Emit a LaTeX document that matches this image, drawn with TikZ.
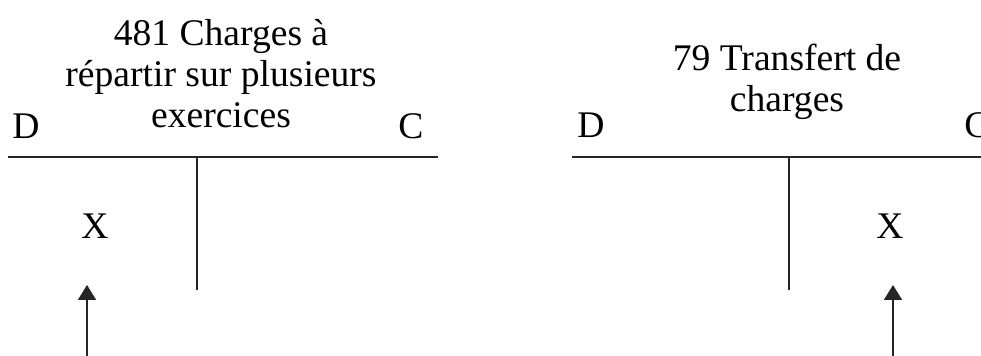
\documentclass[tikz,border=0pt]{standalone}
\usepackage{fontspec}
\setmainfont{Liberation Serif}
\usetikzlibrary{arrows.meta, positioning}
\tikzset{
	titlenode/.style={
			align=center,
			inner sep=0pt,
			anchor=base,
			font=\fontsize{18.8}{20.5}\selectfont
		},
	sidenode/.style={
			inner sep=0pt,
			anchor=base west,
			font=\fontsize{18.8}{20.5}\selectfont
		},
	entrynode/.style={
			inner sep=0pt,
			anchor=base,
			font=\fontsize{18.8}{20.5}\selectfont
		},
	accline/.style={
			draw=black!85,
			line width=0.9pt
		},
	arrline/.style={
			accline,
			-{Triangle[length=7.5pt, width=9pt]}
		}
}

\begin{document}
\begin{tikzpicture}[x=0.5pt, y=-0.5pt]
\clip (0,0) rectangle (981,356);
\fill[white] (0,0) rectangle (981,356);

\node[titlenode] (t1) at (221,128) {481 Charges à\\répartir sur plusieurs\\exercices};
\node[sidenode] (d1) at (12,139) {D};
\node[sidenode] (c1) at (398,139) {C};
\coordinate (h1a) at (8,157);
\coordinate (h1b) at (438,157);
\coordinate (v1a) at (197,157);
\coordinate (v1b) at (197,290);
\node[entrynode] (x1) at (95,239) {X};
\coordinate (a1s) at (87,356);
\coordinate (a1e) at (87,285);

\node[titlenode] (t2) at (787,112) {79 Transfert de\\charges};
\node[sidenode] (d2) at (577,138) {D};
\node[sidenode] (c2) at (964,138) {C};
\coordinate (h2a) at (572,157);
\coordinate (h2b) at (981,157);
\coordinate (v2a) at (789,157);
\coordinate (v2b) at (789,290);
\node[entrynode] (x2) at (890,239) {X};
\coordinate (a2s) at (893,356);
\coordinate (a2e) at (893,285);

\draw[accline] (h1a) -- (h1b);
\draw[accline] (v1a) -- (v1b);
\draw[accline] (h2a) -- (h2b);
\draw[accline] (v2a) -- (v2b);

\draw[arrline] (a1s) -- (a1e);
\draw[arrline] (a2s) -- (a2e);
\end{tikzpicture}
\end{document}
